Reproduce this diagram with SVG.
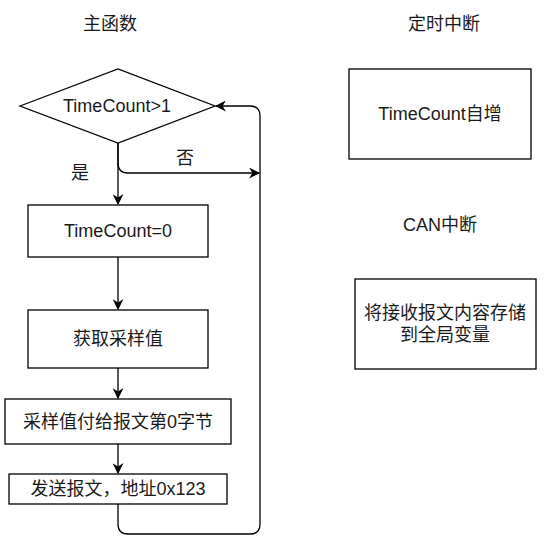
<svg xmlns="http://www.w3.org/2000/svg" width="552" height="543" viewBox="0 0 552 543">
<defs>
<style>
.t{font-family:"Liberation Sans","Noto Sans CJK SC",sans-serif;font-size:18px;fill:#1a1a1a;text-anchor:middle;dominant-baseline:central}
.s{fill:#fff;stroke:#000;stroke-width:1.3}
.c{fill:none;stroke:#000;stroke-width:1.3}
</style>
<marker id="a" viewBox="0 0 10 10" refX="9" refY="5" markerWidth="11" markerHeight="11" markerUnits="userSpaceOnUse" orient="auto"><path d="M0,0L10,5L0,10L3,5Z" fill="#000"/></marker>
</defs>
<rect width="552" height="543" fill="#fff"/>
<g id="title-main"><text class="t" x="110" y="24">主函数</text></g>
<g id="title-timer"><text class="t" x="444" y="24">定时中断</text></g>
<g id="decision"><path class="s" d="M20,106L118,69L215,106L118,143Z"/><text class="t" x="117" y="106">TimeCount&gt;1</text></g>
<g id="reset"><rect class="s" x="28" y="205" width="180" height="52"/><text class="t" x="118" y="231">TimeCount=0</text></g>
<g id="sample"><rect class="s" x="28" y="310" width="180" height="58"/><text class="t" x="118" y="339">获取采样值</text></g>
<g id="assign"><rect class="s" x="5" y="399" width="226" height="45"/><text class="t" x="118" y="421.5">采样值付给报文第0字节</text></g>
<g id="send"><rect class="s" x="9" y="474" width="218" height="30"/><text class="t" x="118" y="489">发送报文，地址0x123</text></g>
<g id="timer"><rect class="s" x="349" y="69" width="182" height="90"/><text class="t" x="440" y="114">TimeCount自增</text></g>
<g id="title-can"><text class="t" x="440" y="225">CAN中断</text></g>
<g id="can"><rect class="s" x="355" y="279" width="181" height="90"/><text class="t" x="445" y="313">将接收报文内容存储</text><text class="t" x="445" y="335">到全局变量</text></g>
<g id="connectors">
<path class="c" d="M118,143V204" marker-end="url(#a)"/>
<text class="t" x="80" y="173">是</text>
<path class="c" d="M118,143V163Q118,173 128,173H259" marker-end="url(#a)"/>
<text class="t" x="185" y="158">否</text>
<path class="c" d="M118,257V309" marker-end="url(#a)"/>
<path class="c" d="M118,368V398" marker-end="url(#a)"/>
<path class="c" d="M118,444V473" marker-end="url(#a)"/>
<path class="c" d="M118,504V524Q118,534 128,534H250Q260,534 260,524V116Q260,106 250,106H216" marker-end="url(#a)"/>
</g>
</svg>
